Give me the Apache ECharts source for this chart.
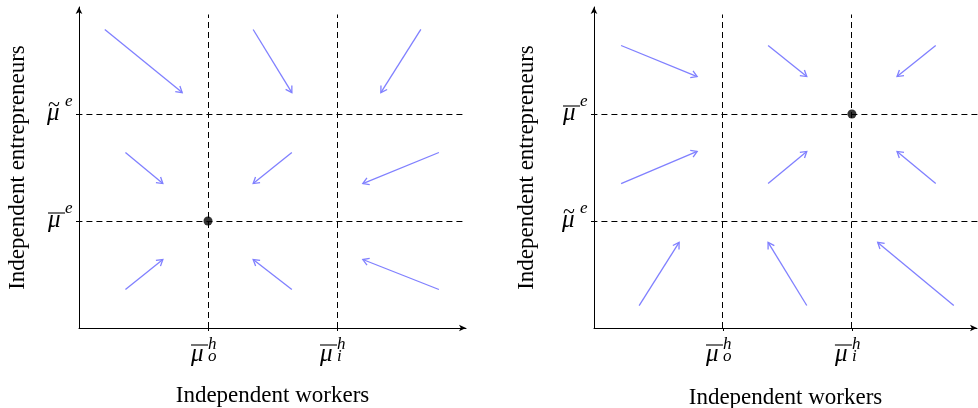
<!DOCTYPE html>
<html>
<head>
<meta charset="utf-8">
<title>Independent workers and entrepreneurs: phase diagrams</title>
<script src="https://cdn.jsdelivr.net/npm/echarts@6/dist/echarts.min.js"></script>
<style>
  html, body { margin: 0; padding: 0; background: #ffffff; }
  #chart { width: 978px; height: 408px; }
</style>
</head>
<body>
<div id="chart"></div>
<script>
// ---------- data ----------
// thresholds on each axis (μ̄_o^h, μ̄_i^h on x; μ^e levels on y)
const xThresholds = [1, 2];
const yThresholds = [1, 2];
const xSubscripts = ['o', 'i'];
const xSuperscript = 'h';
// accent drawn over μ^e at y = 1 and y = 2 in each panel
const leftYAccents = ['bar', 'tilde'];
const rightYAccents = ['tilde', 'bar'];
// steady states
const leftEquilibrium = [[1, 1]];
const rightEquilibrium = [[2, 2]];
// direction arrows: [x from, y from, x to, y to]
const leftArrows = [
  [0.20, 2.79, 0.80, 2.20], [1.35, 2.79, 1.65, 2.20], [2.65, 2.79, 2.34, 2.20],
  [0.36, 1.64, 0.65, 1.35], [1.65, 1.64, 1.35, 1.35], [2.79, 1.64, 2.20, 1.35],
  [0.36, 0.36, 0.65, 0.64], [1.65, 0.36, 1.35, 0.64], [2.79, 0.36, 2.20, 0.64]
];
const rightArrows = [
  [0.21, 2.64, 0.80, 2.35], [1.35, 2.64, 1.65, 2.35], [2.65, 2.64, 2.35, 2.35],
  [0.21, 1.35, 0.80, 1.65], [1.35, 1.35, 1.65, 1.65], [2.65, 1.35, 2.35, 1.65],
  [0.35, 0.21, 0.66, 0.80], [1.65, 0.21, 1.35, 0.80], [2.79, 0.21, 2.20, 0.80]
];
const xTitle = 'Independent workers';
const yTitle = 'Independent entrepreneurs';

// ---------- styling ----------
const serif = "'Liberation Serif', 'Times New Roman', serif";
const ink = '#000000';
const arrowColor = '#8080ff';
const guideColor = '#000000';

function mathStyle(extra) {
  return Object.assign({ fontFamily: serif, fontStyle: 'italic', color: ink, align: 'left', verticalAlign: 'middle' }, extra);
}

// x tick label: barred μ with stacked super/subscript
const xRich = {
  bar:  { align: 'left', verticalAlign: 'middle', width: 17, height: 1.1, backgroundColor: ink, lineHeight: 2 },
  sup:  mathStyle({ fontSize: 17, width: 10, lineHeight: 2 }),
  pad:  { align: 'left', width: 7, lineHeight: 2 },
  mu:   mathStyle({ fontSize: 25, width: 17, lineHeight: 10, padding: [7, 0, 0, 0] }),
  sub:  mathStyle({ fontSize: 17, width: 10, lineHeight: 10, padding: [11, 0, 0, 0] }),
  pad2: { align: 'left', width: 7, lineHeight: 10 }
};
function xLabel(v) {
  const i = xThresholds.indexOf(v);
  if (i < 0) return '';
  return '{bar|}{sup|' + xSuperscript + '}{pad|}\n{mu|μ}{sub|' + xSubscripts[i] + '}{pad2|}';
}

// y tick label: μ^e with a bar or a tilde
const yRich = {
  bar:  { align: 'left', verticalAlign: 'middle', width: 17, height: 1.1, backgroundColor: ink, lineHeight: 2 },
  tl:   { align: 'left', verticalAlign: 'middle', fontFamily: serif, fontSize: 22, color: ink,
          width: 17, lineHeight: 2, padding: [0, 0, 2, 1] },
  supe: mathStyle({ fontSize: 17, width: 10, lineHeight: 2, padding: [0, 0, 8, 0] }),
  mu:   mathStyle({ fontSize: 25, width: 17, lineHeight: 16, padding: [0, 0, 4, 0] }),
  gap:  { align: 'left', width: 10, lineHeight: 16 }
};
function yLabelFor(accents) {
  return function (v) {
    const i = yThresholds.indexOf(v);
    if (i < 0) return '';
    return accents[i] === 'bar'
      ? '{bar|}{supe|e}\n{mu|μ}{gap|}'
      : '{tl|~}{supe|e}\n{mu|μ}{gap|}';
  };
}

// ---------- builders ----------
function makeXAxis(gridIndex, max, nameGap) {
  return {
    type: 'value', gridIndex: gridIndex, min: 0, max: max, interval: 1,
    name: xTitle, nameLocation: 'middle', nameGap: nameGap,
    nameTextStyle: { fontFamily: serif, fontSize: 23, color: ink },
    splitLine: { show: false },
    axisLine: { show: true, onZero: false, symbol: ['none', 'arrow'], symbolSize: [5, 7],
      lineStyle: { color: ink, width: 1 } },
    axisTick: { show: true, customValues: xThresholds, length: 3, lineStyle: { color: ink, width: 1 } },
    axisLabel: { show: true, customValues: xThresholds, margin: 16, formatter: xLabel, rich: xRich }
  };
}
function makeYAxis(gridIndex, accents, nameGap) {
  return {
    type: 'value', gridIndex: gridIndex, min: 0, max: 3, interval: 1,
    name: yTitle, nameLocation: 'middle', nameGap: nameGap,
    nameTextStyle: { fontFamily: serif, fontSize: 23, color: ink },
    splitLine: { show: false },
    axisLine: { show: true, onZero: false, symbol: ['none', 'arrow'], symbolSize: [5, 7],
      lineStyle: { color: ink, width: 1 } },
    axisTick: { show: true, customValues: yThresholds, length: 3, lineStyle: { color: ink, width: 1 } },
    axisLabel: { show: true, customValues: yThresholds, margin: 4, formatter: yLabelFor(accents), rich: yRich }
  };
}

function guideSegments(xEnd) {
  const segs = [];
  yThresholds.forEach(function (y) { segs.push([-0.02, y, xEnd, y]); });
  xThresholds.forEach(function (x) { segs.push([x, 0, x, 2.93]); });
  return segs;
}

// snap a 1px stroke to the pixel grid so the dashes stay crisp
function crisp(v) { return Math.round(v - 0.5) + 0.5; }

function renderGuide(params, api) {
  const a = api.coord([api.value(0), api.value(1)]);
  const b = api.coord([api.value(2), api.value(3)]);
  const horizontal = api.value(1) === api.value(3);
  const shape = horizontal
    ? { x1: a[0], y1: crisp(a[1]), x2: b[0], y2: crisp(b[1]) }
    : { x1: crisp(a[0]), y1: a[1], x2: crisp(b[0]), y2: b[1] };
  return {
    type: 'line',
    shape: shape,
    style: { stroke: guideColor, lineWidth: 1, lineDash: [6, 4] }
  };
}

function renderArrow(params, api) {
  const a = api.coord([api.value(0), api.value(1)]);
  const b = api.coord([api.value(2), api.value(3)]);
  const ang = Math.atan2(b[1] - a[1], b[0] - a[0]);
  const len = 7, spread = 0.55;
  const h1 = [b[0] - len * Math.cos(ang - spread), b[1] - len * Math.sin(ang - spread)];
  const h2 = [b[0] - len * Math.cos(ang + spread), b[1] - len * Math.sin(ang + spread)];
  return {
    type: 'group',
    children: [
      { type: 'line', shape: { x1: a[0], y1: a[1], x2: b[0], y2: b[1] },
        style: { stroke: arrowColor, lineWidth: 1.3 } },
      { type: 'polyline', shape: { points: [h1, b, h2] },
        style: { stroke: arrowColor, lineWidth: 1.3, fill: null } }
    ]
  };
}

function panelSeries(idx, arrows, equilibrium, xEnd) {
  return [
    { type: 'custom', xAxisIndex: idx, yAxisIndex: idx, renderItem: renderGuide,
      data: guideSegments(xEnd), silent: true, z: 1 },
    { type: 'custom', xAxisIndex: idx, yAxisIndex: idx, renderItem: renderArrow,
      data: arrows, silent: true, z: 2 },
    { type: 'scatter', xAxisIndex: idx, yAxisIndex: idx, data: equilibrium,
      symbol: 'circle', symbolSize: 9, itemStyle: { color: ink }, silent: true, z: 3 }
  ];
}

const chart = echarts.init(document.getElementById('chart'), null, { renderer: 'canvas' });
chart.setOption({
  animation: false,
  backgroundColor: '#ffffff',
  grid: [
    { left: 79, top: 7, width: 387, height: 321, outerBoundsMode: 'none' },
    { left: 594, top: 7, width: 383, height: 321, outerBoundsMode: 'none' }
  ],
  xAxis: [makeXAxis(0, 3, 56), makeXAxis(1, 2.97, 58)],
  yAxis: [makeYAxis(0, leftYAccents, 50), makeYAxis(1, rightYAccents, 56)],
  series: [].concat(
    panelSeries(0, leftArrows, leftEquilibrium, 2.99),
    panelSeries(1, rightArrows, rightEquilibrium, 3.1)
  )
});
</script>
</body>
</html>
